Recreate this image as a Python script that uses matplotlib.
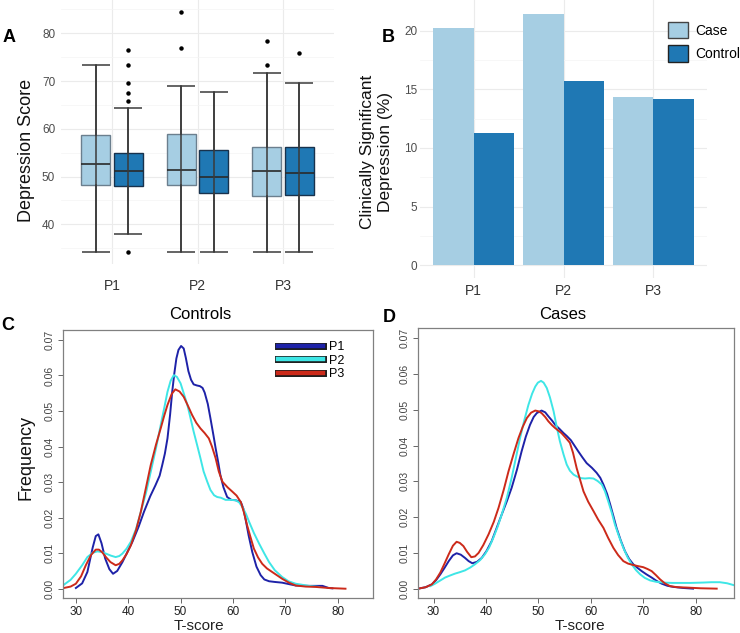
import matplotlib
matplotlib.use("Agg")
import matplotlib.pyplot as plt
import matplotlib.patheffects as pe
from matplotlib.patches import Patch
from matplotlib.lines import Line2D
import numpy as np

plt.rcParams['font.family'] = ['Liberation Sans', 'DejaVu Sans']

# ---------------- data ----------------
periods = ['P1', 'P2', 'P3']
groups = ['Case', 'Control']

# Panel A: box plot statistics (Depression Score)
case_whislo = [34.2, 34.2, 34.2]
case_q1 = [48.2, 48.2, 45.9]
case_med = [52.7, 51.3, 51.2]
case_q3 = [58.8, 58.9, 56.3]
case_whishi = [73.4, 69.0, 71.6]
case_fliers = [[], [77.0, 84.4], [73.3, 78.3]]

ctrl_whislo = [38.0, 34.2, 34.2]
ctrl_q1 = [48.1, 46.6, 46.1]
ctrl_med = [51.2, 49.9, 50.8]
ctrl_q3 = [55.0, 55.6, 56.1]
ctrl_whishi = [64.3, 67.7, 69.7]
ctrl_fliers = [[34.2, 65.8, 67.6, 69.5, 73.4, 76.6], [], [75.9]]

# Panel B: clinically significant depression (%)
case_pct = [20.2, 21.4, 14.35]
ctrl_pct = [11.3, 15.7, 14.2]

# Panel C: Controls density curves (T-score, frequency)
c_p1 = [(30.0, 0.0002), (31.2, 0.0015), (32.2, 0.0047), (33.2, 0.0115), (33.8, 0.0148),
        (34.3, 0.0153), (34.9, 0.0128), (35.6, 0.0085), (36.4, 0.0055), (37.1, 0.0042),
        (37.9, 0.0050), (38.9, 0.0075), (40.0, 0.0108), (40.8, 0.0132), (42.0, 0.0175),
        (43.0, 0.0216), (44.2, 0.0260), (45.2, 0.0291), (46.0, 0.0318), (46.5, 0.0348),
        (47.0, 0.0380), (47.5, 0.0423), (48.0, 0.0490), (48.4, 0.0554), (48.8, 0.0605),
        (49.2, 0.0648), (49.6, 0.0672), (50.1, 0.0683), (50.6, 0.0676), (51.0, 0.0650),
        (51.5, 0.0612), (52.0, 0.0588), (52.5, 0.0575), (53.1, 0.0572), (53.7, 0.0570),
        (54.2, 0.0565), (54.6, 0.0552), (55.2, 0.0520), (55.7, 0.0480), (56.3, 0.0430),
        (56.7, 0.0395), (57.2, 0.0355), (57.6, 0.0320), (58.2, 0.0285), (58.9, 0.0258),
        (59.7, 0.0250), (60.5, 0.0249), (61.5, 0.0244), (62.0, 0.0225), (62.4, 0.0197),
        (63.0, 0.0150), (63.7, 0.0103), (64.5, 0.0062), (65.3, 0.0038), (66.0, 0.0026),
        (66.9, 0.0021), (68.0, 0.0019), (69.4, 0.0017), (71.0, 0.0012), (72.0, 0.0009),
        (74.5, 0.0008), (77.1, 0.0008), (78.3, 0.0002), (79.0, 0.0001)]
c_p2 = [(27.7, 0.0011), (29.0, 0.0025), (30.0, 0.0042), (31.2, 0.0066), (32.2, 0.0089),
        (33.2, 0.0101), (34.1, 0.0105), (35.0, 0.0103), (35.7, 0.0099), (36.7, 0.0093),
        (37.6, 0.0089), (38.3, 0.0092), (38.9, 0.0099), (39.7, 0.0113), (40.5, 0.0132),
        (41.5, 0.0168), (42.4, 0.0216), (43.4, 0.0270), (44.3, 0.0329), (45.3, 0.0395),
        (46.2, 0.0460), (46.9, 0.0510), (47.5, 0.0554), (48.1, 0.0585), (48.7, 0.0601),
        (49.3, 0.0596), (50.0, 0.0578), (50.6, 0.0550), (51.3, 0.0517), (51.9, 0.0480),
        (52.5, 0.0442), (53.2, 0.0402), (53.8, 0.0367), (54.4, 0.0330), (55.1, 0.0301),
        (55.7, 0.0278), (56.4, 0.0263), (57.0, 0.0258), (57.7, 0.0256), (58.6, 0.0250),
        (59.5, 0.0250), (60.5, 0.0249), (61.2, 0.0243), (61.8, 0.0230), (62.5, 0.0210),
        (63.1, 0.0188), (64.0, 0.0157), (65.0, 0.0127), (66.0, 0.0099), (66.9, 0.0075),
        (68.0, 0.0052), (69.4, 0.0033), (70.6, 0.0021), (72.0, 0.0014), (74.5, 0.0008),
        (76.4, 0.0005)]
c_p3 = [(27.7, 0.0002), (29.0, 0.0006), (30.0, 0.0014), (31.0, 0.0035), (31.9, 0.0066),
        (32.9, 0.0095), (33.8, 0.0110), (34.4, 0.0110), (35.0, 0.0103), (35.8, 0.0088),
        (36.6, 0.0075), (37.6, 0.0066), (38.3, 0.0070), (38.9, 0.0080), (39.7, 0.0098),
        (40.5, 0.0122), (41.5, 0.0165), (42.4, 0.0216), (43.4, 0.0285), (44.3, 0.0348),
        (45.3, 0.0405), (46.2, 0.0451), (46.9, 0.0488), (47.5, 0.0517), (48.3, 0.0548),
        (49.0, 0.0561), (49.8, 0.0555), (50.6, 0.0540), (51.4, 0.0515), (52.2, 0.0489),
        (53.0, 0.0467), (53.8, 0.0451), (54.6, 0.0438), (55.4, 0.0423), (56.0, 0.0400),
        (56.7, 0.0367), (57.3, 0.0330), (58.0, 0.0301), (59.0, 0.0285), (59.9, 0.0273),
        (60.7, 0.0262), (61.5, 0.0244), (62.1, 0.0215), (62.7, 0.0179), (63.4, 0.0143),
        (64.0, 0.0113), (64.8, 0.0088), (65.6, 0.0070), (66.5, 0.0057), (67.5, 0.0047),
        (68.5, 0.0037), (69.4, 0.0028), (70.7, 0.0017), (72.0, 0.0009), (73.9, 0.0006),
        (75.8, 0.0005), (78.3, 0.0002), (81.5, 0.0000)]

# Panel D: Cases density curves (T-score, frequency)
d_p1 = [(27.1, 0.0000), (28.5, 0.0004), (29.7, 0.0012), (30.5, 0.0024), (31.3, 0.0040),
        (32.1, 0.0058), (32.9, 0.0077), (33.7, 0.0093), (34.4, 0.0099), (35.2, 0.0095),
        (36.0, 0.0086), (36.7, 0.0077), (37.4, 0.0071), (38.3, 0.0075), (39.2, 0.0086),
        (40.1, 0.0105), (41.1, 0.0133), (42.0, 0.0168), (43.0, 0.0207), (44.0, 0.0245),
        (44.9, 0.0282), (45.9, 0.0332), (46.8, 0.0384), (47.6, 0.0425), (48.4, 0.0458),
        (49.1, 0.0480), (49.7, 0.0491), (50.6, 0.0498), (51.3, 0.0493), (51.9, 0.0482),
        (52.6, 0.0470), (53.2, 0.0458), (54.0, 0.0447), (54.8, 0.0435), (55.4, 0.0427),
        (56.2, 0.0415), (57.6, 0.0384), (58.4, 0.0367), (59.2, 0.0351), (60.2, 0.0338),
        (61.1, 0.0324), (61.8, 0.0310), (62.4, 0.0291), (63.1, 0.0265), (63.7, 0.0235),
        (64.3, 0.0203), (64.9, 0.0170), (65.7, 0.0135), (66.5, 0.0105), (67.3, 0.0083),
        (68.1, 0.0068), (68.9, 0.0058), (69.7, 0.0049), (70.6, 0.0040), (71.6, 0.0031),
        (72.5, 0.0022), (73.5, 0.0014), (74.6, 0.0008), (75.7, 0.0005), (77.5, 0.0002),
        (79.5, 0.0000)]
d_p2 = [(29.4, 0.0007), (30.3, 0.0014), (31.2, 0.0022), (32.2, 0.0031), (33.2, 0.0037),
        (34.1, 0.0042), (35.0, 0.0046), (36.0, 0.0051), (37.0, 0.0059), (37.9, 0.0068),
        (38.9, 0.0080), (39.8, 0.0096), (40.6, 0.0115), (41.4, 0.0142), (42.2, 0.0172),
        (43.0, 0.0207), (44.0, 0.0255), (44.9, 0.0310), (45.7, 0.0365), (46.5, 0.0421),
        (47.3, 0.0470), (48.1, 0.0514), (48.8, 0.0545), (49.4, 0.0565), (49.9, 0.0576),
        (50.5, 0.0581), (51.0, 0.0576), (51.6, 0.0561), (52.2, 0.0535), (52.9, 0.0496),
        (53.5, 0.0452), (54.1, 0.0412), (54.8, 0.0375), (55.4, 0.0347), (56.0, 0.0330),
        (56.7, 0.0319), (57.3, 0.0314), (58.1, 0.0309), (58.9, 0.0308), (59.7, 0.0309),
        (60.5, 0.0308), (61.3, 0.0301), (62.1, 0.0291), (62.7, 0.0272), (63.3, 0.0245),
        (64.0, 0.0212), (64.6, 0.0179), (65.4, 0.0145), (66.2, 0.0114), (67.0, 0.0088),
        (67.8, 0.0068), (68.6, 0.0052), (69.4, 0.0040), (70.3, 0.0030), (71.3, 0.0023),
        (72.5, 0.0019), (73.8, 0.0017), (75.5, 0.0016), (77.0, 0.0016), (79.0, 0.0016),
        (81.4, 0.0017), (83.0, 0.0018), (84.6, 0.0018), (86.0, 0.0015), (87.2, 0.0010)]
d_p3 = [(27.1, 0.0000), (28.5, 0.0004), (29.7, 0.0012), (30.5, 0.0026), (31.3, 0.0045),
        (32.1, 0.0070), (32.9, 0.0096), (33.7, 0.0120), (34.4, 0.0131), (35.0, 0.0128),
        (35.7, 0.0119), (36.4, 0.0103), (37.2, 0.0088), (37.9, 0.0090), (38.6, 0.0100),
        (39.5, 0.0122), (40.5, 0.0152), (41.5, 0.0187), (42.4, 0.0226), (43.4, 0.0277),
        (44.3, 0.0328), (45.3, 0.0378), (46.2, 0.0421), (47.0, 0.0452), (47.8, 0.0477),
        (48.6, 0.0492), (49.4, 0.0498), (50.0, 0.0496), (50.6, 0.0491), (51.3, 0.0480),
        (51.9, 0.0468), (52.6, 0.0457), (53.2, 0.0449), (53.8, 0.0442), (54.4, 0.0435),
        (55.2, 0.0422), (56.0, 0.0408), (56.6, 0.0380), (57.3, 0.0337), (58.0, 0.0302),
        (58.6, 0.0272), (59.5, 0.0243), (60.5, 0.0217), (61.4, 0.0193), (62.4, 0.0170),
        (63.3, 0.0142), (64.3, 0.0114), (65.2, 0.0094), (66.2, 0.0077), (67.1, 0.0070),
        (68.1, 0.0066), (69.0, 0.0063), (70.0, 0.0060), (70.8, 0.0055), (71.6, 0.0049),
        (72.4, 0.0038), (73.2, 0.0026), (74.1, 0.0015), (75.1, 0.0007), (76.5, 0.0004),
        (78.3, 0.0003), (81.0, 0.0001), (84.0, 0.0000)]

x_ticks_d = [30, 40, 50, 60, 70, 80]
y_ticks_d = [0.00, 0.01, 0.02, 0.03, 0.04, 0.05, 0.06, 0.07]

# ---------------- style ----------------
col_case = '#A6CEE3'
col_ctrl = '#1F78B4'
col_p1 = '#1E22A8'
col_p2 = '#3EE6E6'
col_p3 = '#CC2A1A'

W, H = 740, 633
fig = plt.figure(figsize=(W / 100, H / 100), dpi=100)


def ax_px(l, t, r, b):
    return fig.add_axes([l / W, 1 - b / H, (r - l) / W, (b - t) / H])


def gg_style(ax):
    for s in ax.spines.values():
        s.set_visible(False)
    ax.tick_params(length=0)
    ax.set_axisbelow(True)
    ax.grid(True, which='major', color='#EBEBEB', lw=0.8)
    ax.grid(True, which='minor', axis='y', color='#F4F4F4', lw=0.5)


xcat = np.arange(1, len(periods) + 1)

# ---------------- Panel A ----------------
axA = ax_px(60.7, 0.4, 334.3, 264)
gg_style(axA)
off, bw = 0.19, 0.34
for pos, lo, q1, med, q3, hi, fl, fc, ec in [
        (xcat - off, case_whislo, case_q1, case_med, case_q3, case_whishi, case_fliers, col_case, '#6B7F8E'),
        (xcat + off, ctrl_whislo, ctrl_q1, ctrl_med, ctrl_q3, ctrl_whishi, ctrl_fliers, col_ctrl, '#18324D')]:
    stats = [dict(whislo=lo[i], q1=q1[i], med=med[i], q3=q3[i], whishi=hi[i], fliers=fl[i])
             for i in range(len(periods))]
    axA.bxp(stats, positions=pos, widths=bw, patch_artist=True, showcaps=False,
            boxprops=dict(facecolor=fc, edgecolor=ec, lw=1.0),
            medianprops=dict(color='#2A2A2A', lw=1.2),
            whiskerprops=dict(color='#333333', lw=1.1),
            flierprops=dict(marker='o', markersize=2.2, markerfacecolor='black',
                            markeredgecolor='black'),
            manage_ticks=False, zorder=2)
    axA.errorbar(pos, med, yerr=[np.array(med) - np.array(lo), np.array(hi) - np.array(med)],
                 fmt='none', ecolor='#3A3A3A', elinewidth=1.1, capsize=10.2, capthick=1.1,
                 zorder=3)
axA.set_xlim(0.4, 3.6)
axA.set_ylim(31.7, 86.9)
axA.set_xticks(xcat)
axA.set_xticklabels(periods, fontsize=10, color='#333333')
axA.set_yticks([40, 50, 60, 70, 80])
axA.set_yticks([35, 45, 55, 65, 75, 85], minor=True)
axA.tick_params(axis='y', labelsize=8.5, labelcolor='#4D4D4D', pad=4, which='both', length=0)
axA.tick_params(axis='x', pad=11)
axA.set_ylabel('Depression Score', fontsize=13, color='#111111')
axA.yaxis.set_label_coords(-(60.7 - 35) / (334.3 - 60.7), 1 - (150 - 0.4) / (264 - 0.4))

# ---------------- Panel B ----------------
axB = ax_px(420, 0, 707, 278)
gg_style(axB)
axB.bar(xcat - 0.225, case_pct, width=0.45, color=col_case, label=groups[0], zorder=2)
axB.bar(xcat + 0.225, ctrl_pct, width=0.45, color=col_ctrl, label=groups[1], zorder=2)
axB.set_xlim(0.4, 3.6)
axB.set_ylim(-1.08, 22.6)
axB.set_xticks(xcat)
axB.set_xticklabels(periods, fontsize=10, color='#333333')
axB.set_yticks([0, 5, 10, 15, 20])
axB.set_yticks([2.5, 7.5, 12.5, 17.5], minor=True)
axB.tick_params(axis='y', labelsize=8.5, labelcolor='#4D4D4D', pad=2, which='both', length=0)
axB.tick_params(axis='x', pad=4)
axB.set_ylabel('Clinically Significant\nDepression (%)', fontsize=12.5, color='#111111',
               linespacing=1.25)
axB.yaxis.set_label_coords(-(420 - 393) / (707 - 420), 1 - 152 / 278)
leg_handles = [Patch(facecolor=col_case, edgecolor='#444444', lw=1.0),
               Patch(facecolor=col_ctrl, edgecolor='#222222', lw=1.0)]
fig.legend(leg_handles, groups, loc='upper left', bbox_to_anchor=(661 / W, 1 - 15 / H),
           frameon=False, fontsize=10, handlelength=1.45, handleheight=1.45,
           handletextpad=0.5, labelspacing=0.5, borderpad=0)


# ---------------- Panels C and D ----------------
def dens_axes(ax, curves):
    for pts, c in curves:
        t = [p[0] for p in pts]
        f = [p[1] for p in pts]
        ax.plot(t, f, color=c, lw=1.4, solid_joinstyle='round')
    for s in ax.spines.values():
        s.set_color('#808080')
        s.set_linewidth(0.9)
    ax.set_ylim(-0.0027, 0.0728)
    ax.set_xticks(x_ticks_d)
    ax.set_xticklabels([str(v) for v in x_ticks_d], fontsize=8.5, color='#222222')
    ax.set_yticks(y_ticks_d)
    ax.set_yticklabels([f'{v:.2f}' for v in y_ticks_d], fontsize=7.5, color='#444444',
                       rotation=90, va='center')
    ax.tick_params(direction='out', length=3.5, width=0.7, color='#666666', pad=2)
    ax.tick_params(axis='y', pad=3)


axC = ax_px(63.3, 330, 372.7, 598.3)
dens_axes(axC, [(c_p1, col_p1), (c_p2, col_p2), (c_p3, col_p3)])
axC.set_xlim(27.6, 86.7)

axD = ax_px(418.3, 328.3, 734, 598.3)
dens_axes(axD, [(d_p1, col_p1), (d_p2, col_p2), (d_p3, col_p3)])
axD.set_xlim(27.1, 87.3)

lh = [Line2D([0], [0], color=c, lw=3.2,
             path_effects=[pe.Stroke(linewidth=5.0, foreground='#1A1A1A'), pe.Normal()])
      for c in (col_p1, col_p2, col_p3)]
fig.legend(lh, periods, loc='upper left', bbox_to_anchor=(272 / W, 1 - 335 / H),
           frameon=False, fontsize=9, handlelength=3.6, handletextpad=0.45,
           labelspacing=0.12, borderpad=0)

fig.text(200 / W, 1 - 315 / H, 'Controls', fontsize=12, ha='center', va='center')
fig.text(563 / W, 1 - 315 / H, 'Cases', fontsize=12, ha='center', va='center')
fig.text(199 / W, 1 - 626 / H, 'T-score', fontsize=11, ha='center', va='center', color='#222222')
fig.text(580 / W, 1 - 626 / H, 'T-score', fontsize=11, ha='center', va='center', color='#222222')
fig.text(26 / W, 1 - 458 / H, 'Frequency', fontsize=13, ha='center', va='center',
         rotation=90, color='#111111')

# panel letters
for lab, x, y in [('A', 9, 38), ('B', 388, 37), ('C', 8, 325), ('D', 389, 318)]:
    fig.text(x / W, 1 - y / H, lab, fontsize=13, fontweight='bold', ha='center', va='center')

fig.savefig('out.png', dpi=100)
